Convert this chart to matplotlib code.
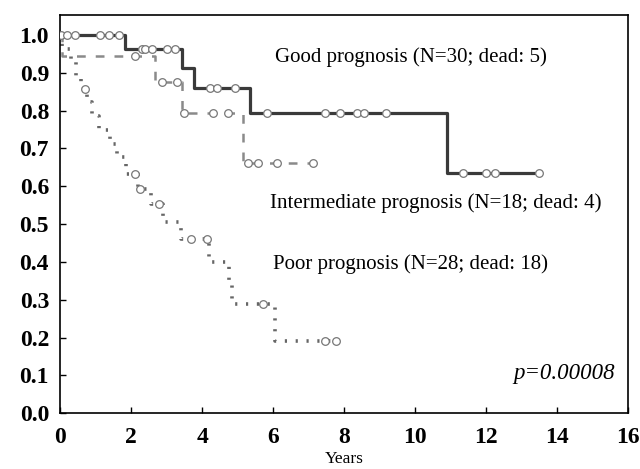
"""Kaplan-Meier survival by prognosis group."""
import numpy as np
import matplotlib
matplotlib.use('Agg')
import matplotlib.pyplot as plt

# event times (start of each step) and survival after each step
good_t = [0.0, 1.83, 3.43, 3.78, 5.35, 10.9]
good_s = [1.0, 0.962, 0.912, 0.859, 0.794, 0.635]
good_end = 13.5
good_cens = [0.03, 0.2, 0.42, 1.13, 1.38, 1.65, 2.3, 2.4, 2.6, 3.0, 3.24,
             4.23, 4.41, 4.93, 5.84, 7.46, 7.89, 8.36, 8.57, 9.18,
             11.35, 12.0, 12.25, 13.5]

mid_t = [0.0, 0.06, 2.68, 3.43, 5.15]
mid_s = [1.0, 0.944, 0.876, 0.795, 0.662]
mid_end = 7.13
mid_cens = [2.11, 2.86, 3.28, 3.5, 4.32, 4.74, 5.3, 5.59, 6.1, 7.13]

poor_t = [0.0, 0.05, 0.3, 0.45, 0.6, 0.75, 0.9, 1.1, 1.4, 1.6, 1.85, 2.2,
          2.55, 2.9, 3.4, 4.2, 4.75, 4.85, 6.05]
poor_s = [1.0, 0.964, 0.929, 0.893, 0.857, 0.822, 0.786, 0.75, 0.713, 0.677,
          0.632, 0.593, 0.553, 0.505, 0.46, 0.40, 0.35, 0.29, 0.19]
poor_end = 7.77
poor_cens = [0.7, 2.11, 2.25, 2.79, 3.69, 4.14, 5.72, 7.46, 7.77]

labels = ['Good prognosis (N=30; dead: 5)',
          'Intermediate prognosis (N=18; dead: 4)',
          'Poor prognosis (N=28; dead: 18)']
p_text = 'p=0.00008'

plt.rcParams['font.family'] = ['Liberation Serif', 'DejaVu Serif']


def surv_at(ts, ss, x):
    i = np.searchsorted(ts, x, side='right') - 1
    return ss[max(i, 0)]


def km(ax, ts, ss, end, cens, color, ls, lw):
    xs = list(ts) + [end]
    ys = list(ss) + [ss[-1]]
    ax.step(xs, ys, where='post', color=color, ls=ls, lw=lw, zorder=2,
            dash_capstyle='butt', solid_capstyle='butt')
    cy = [surv_at(ts, ss, c) for c in cens]
    ax.plot(cens, cy, ls='none', marker='o', ms=5.5, mfc='white',
            mec='#777777', mew=0.9, zorder=3)


fig = plt.figure(figsize=(6.4, 4.69), dpi=100)
ax = fig.add_axes([0.094, 0.119, 0.887, 0.849])

km(ax, poor_t, poor_s, poor_end, poor_cens, '#666666', (0, (0.6, 2.4)), 2.6)
km(ax, mid_t, mid_s, mid_end, mid_cens, '#8a8a8a', (0, (3.5, 4)), 1.8)
km(ax, good_t, good_s, good_end, good_cens, '#3a3a3a', '-', 2.3)

ax.set_xlim(0, 16)
ax.set_ylim(0, 1.053)
ax.set_xticks(np.arange(0, 17, 2))
ax.set_yticks(np.arange(0, 1.01, 0.1))
ax.set_yticklabels([f'{v:.1f}' for v in np.arange(0, 1.01, 0.1)])
ax.tick_params(direction='in', length=4, width=1, labelsize=17)
ax.tick_params(axis='y', pad=8)
ax.tick_params(axis='x', pad=10)
for lab in ax.get_xticklabels() + ax.get_yticklabels():
    lab.set_fontweight('bold')
for sp in ax.spines.values():
    sp.set_linewidth(1.2)
ax.set_xlabel('Years', fontsize=12.5, labelpad=2)

ax.text(6.06, 0.942, labels[0], fontsize=15, va='center')
ax.text(5.92, 0.556, labels[1], fontsize=15, va='center')
ax.text(6.0, 0.394, labels[2], fontsize=15, va='center')
ax.text(15.63, 0.106, p_text, fontsize=16.5, style='italic', ha='right', va='center')

fig.savefig('out.png', dpi=100)
